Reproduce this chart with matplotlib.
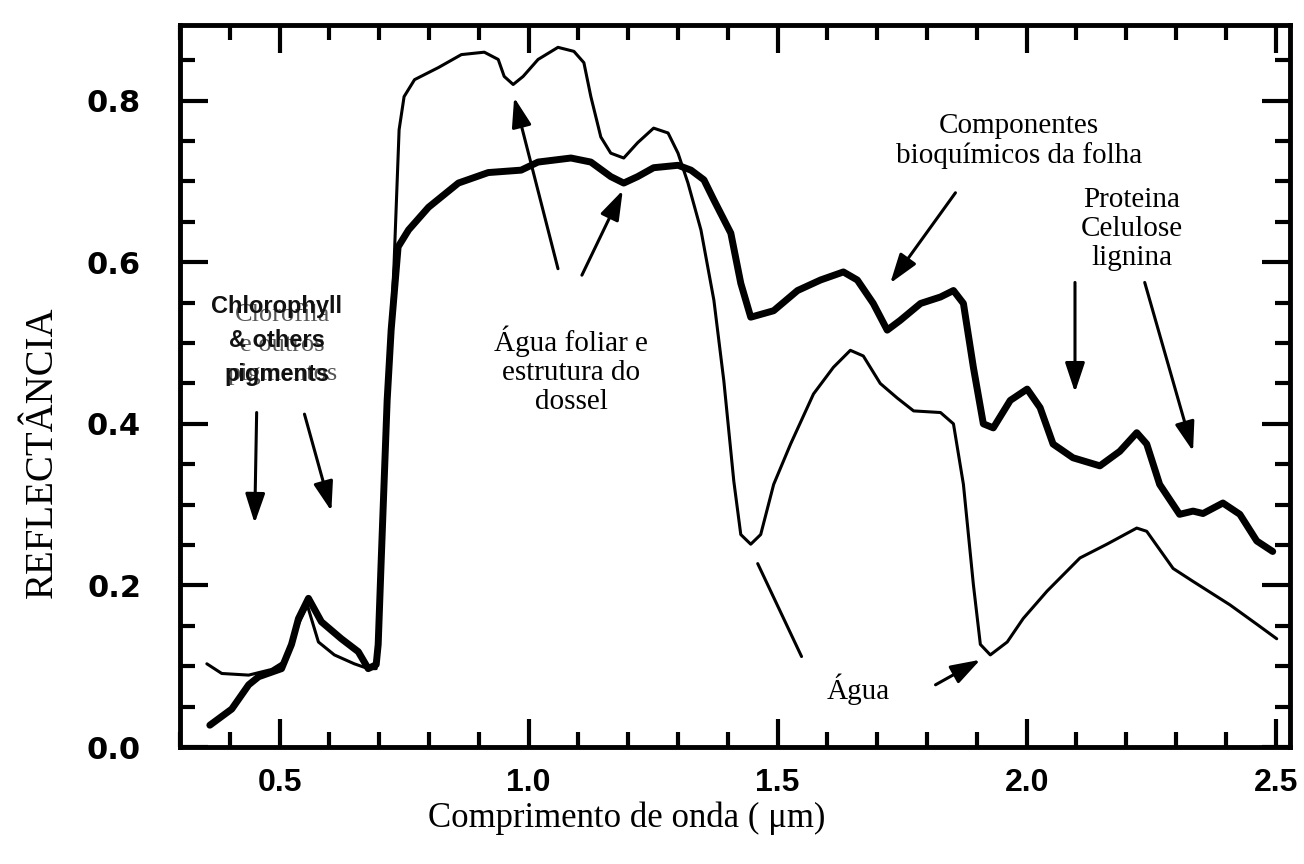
import matplotlib
matplotlib.use("Agg")
import matplotlib.pyplot as plt
from matplotlib.ticker import MultipleLocator, FixedLocator

# ---- data ----
wl_thin = [0.354, 0.384, 0.438, 0.484, 0.510, 0.524, 0.540, 0.556, 0.578, 0.610, 0.650, 0.678, 0.694,
           0.704, 0.716, 0.730, 0.740, 0.750, 0.771, 0.819, 0.865, 0.911, 0.939, 0.951, 0.969, 0.989,
           1.019, 1.059, 1.091, 1.111, 1.125, 1.145, 1.165, 1.191, 1.219, 1.251, 1.280, 1.300, 1.320,
           1.346, 1.372, 1.392, 1.412, 1.426, 1.446, 1.466, 1.492, 1.526, 1.572, 1.612, 1.646, 1.672,
           1.706, 1.740, 1.773, 1.827, 1.853, 1.873, 1.893, 1.907, 1.927, 1.961, 1.993, 2.041, 2.107,
           2.161, 2.221, 2.241, 2.294, 2.334, 2.408, 2.462, 2.502]
refl_thin = [0.103, 0.091, 0.089, 0.096, 0.106, 0.130, 0.155, 0.175, 0.130, 0.114, 0.103, 0.097, 0.097,
             0.230, 0.420, 0.600, 0.764, 0.805, 0.826, 0.841, 0.857, 0.860, 0.851, 0.830, 0.820, 0.830,
             0.851, 0.866, 0.861, 0.847, 0.805, 0.755, 0.735, 0.729, 0.748, 0.766, 0.760, 0.735, 0.698,
             0.640, 0.553, 0.453, 0.329, 0.263, 0.251, 0.263, 0.325, 0.375, 0.437, 0.470, 0.491, 0.484,
             0.450, 0.432, 0.416, 0.414, 0.400, 0.325, 0.201, 0.127, 0.114, 0.130, 0.159, 0.193, 0.234,
             0.251, 0.271, 0.267, 0.221, 0.205, 0.176, 0.152, 0.134]

wl_thick = [0.360, 0.404, 0.438, 0.458, 0.504, 0.524, 0.538, 0.558, 0.584, 0.624, 0.658, 0.678, 0.694,
            0.698, 0.704, 0.716, 0.724, 0.738, 0.759, 0.799, 0.859, 0.919, 0.985, 1.019, 1.085, 1.125,
            1.165, 1.191, 1.219, 1.251, 1.300, 1.326, 1.352, 1.372, 1.406, 1.426, 1.446, 1.492, 1.540,
            1.586, 1.632, 1.660, 1.692, 1.720, 1.746, 1.787, 1.827, 1.853, 1.873, 1.893, 1.913, 1.933,
            1.967, 2.001, 2.027, 2.053, 2.093, 2.147, 2.187, 2.221, 2.241, 2.267, 2.307, 2.334, 2.354,
            2.394, 2.428, 2.462, 2.494]
refl_thick = [0.027, 0.047, 0.077, 0.087, 0.097, 0.127, 0.159, 0.184, 0.155, 0.134, 0.118, 0.097, 0.102,
              0.127, 0.230, 0.429, 0.516, 0.619, 0.640, 0.668, 0.698, 0.711, 0.714, 0.724, 0.729, 0.724,
              0.706, 0.698, 0.706, 0.717, 0.720, 0.714, 0.702, 0.677, 0.636, 0.574, 0.532, 0.540, 0.565,
              0.578, 0.588, 0.578, 0.549, 0.516, 0.528, 0.549, 0.557, 0.565, 0.549, 0.470, 0.400, 0.395,
              0.429, 0.443, 0.420, 0.375, 0.358, 0.348, 0.366, 0.389, 0.375, 0.325, 0.288, 0.292, 0.289,
              0.302, 0.288, 0.255, 0.242]

x_ticks = [0.5, 1.0, 1.5, 2.0, 2.5]
x_ticklabels = ["0.5", "1.0", "1.5", "2.0", "2.5"]
y_ticks = [0.0, 0.2, 0.4, 0.6, 0.8]
y_ticklabels = ["0.0", "0.2", "0.4", "0.6", "0.8"]

xlabel = "Comprimento de onda ( \u03bcm)"
ylabel = "REFLECT\u00c2NCIA"

# annotations: (text, x, y)
labels = [
    ("\u00c1gua foliar e\nestrutura do\ndossel", 1.085, 0.466),
    ("Componentes\nbioqu\u00edmicos da folha", 1.985, 0.750),
    ("Proteina\nCelulose\nlignina", 2.211, 0.641),
    ("\u00c1gua", 1.662, 0.071),
]
# arrows: (tail_x, tail_y, tip_x, tip_y, has_head)
arrows = [
    (0.454, 0.414, 0.450, 0.277, True),
    (0.550, 0.412, 0.604, 0.292, True),
    (1.059, 0.592, 0.971, 0.804, True),
    (1.107, 0.584, 1.189, 0.689, True),
    (1.548, 0.112, 1.460, 0.227, False),
    (1.817, 0.077, 1.907, 0.108, True),
    (1.857, 0.686, 1.726, 0.574, True),
    (2.097, 0.575, 2.097, 0.439, True),
    (2.237, 0.575, 2.334, 0.366, True),
]

# ---- figure ----
fig = plt.figure(figsize=(13.04, 8.64), dpi=100)
ax = fig.add_axes([0.138, 0.1354, 0.851, 0.836])

ax.plot(wl_thin, refl_thin, color="black", lw=2.2, solid_joinstyle="round", solid_capstyle="round")
ax.plot(wl_thick, refl_thick, color="black", lw=5.0, solid_joinstyle="round", solid_capstyle="round")

ax.set_xlim(0.30, 2.528)
ax.set_ylim(0.0, 0.894)

ax.xaxis.set_major_locator(FixedLocator(x_ticks))
ax.xaxis.set_minor_locator(MultipleLocator(0.1))
ax.yaxis.set_major_locator(FixedLocator(y_ticks))
ax.yaxis.set_minor_locator(MultipleLocator(0.05))
ax.set_xticklabels(x_ticklabels)
ax.set_yticklabels(y_ticklabels)

ax.tick_params(which="both", direction="in", top=True, right=True, color="black")
ax.tick_params(which="major", length=20, width=3)
ax.tick_params(which="minor", length=11, width=3)
ax.tick_params(axis="y", which="major", pad=28)
ax.tick_params(axis="x", which="major", pad=15)
for lab in ax.get_yticklabels():
    lab.set_fontfamily("DejaVu Sans")
    lab.set_fontweight("bold")
    lab.set_fontsize(22)
for lab in ax.get_xticklabels():
    lab.set_fontfamily("Liberation Sans")
    lab.set_fontweight("bold")
    lab.set_fontsize(23)

for sp in ax.spines.values():
    sp.set_linewidth(3.5)
    sp.set_color("black")

fig.text(42 / 1304, 1 - 452 / 864, ylabel, rotation=90, ha="center", va="center",
         family="Liberation Serif", fontsize=28)
fig.text(627 / 1304, 1 - 818 / 864, xlabel, ha="center", va="center",
         family="Liberation Serif", fontsize=25)

for txt, x, y in labels:
    ax.text(x, y, txt, ha="center", va="center", family="Liberation Serif",
            fontsize=21, linespacing=1.15)

# overlapping chlorophyll labels (as in the scanned original)
ax.text(0.506, 0.498, "Clorofila\ne outros\npigmentos", ha="center", va="center",
        family="Liberation Serif", fontsize=19, color="#555555", linespacing=1.45)
ax.text(0.494, 0.503, "Chlorophyll\n& others\npigments", ha="center", va="center",
        family="Liberation Sans", fontweight="bold", fontsize=17, color="#111111", linespacing=1.6)

for tx, ty, hx, hy, head in arrows:
    style = "-|>,head_length=0.9,head_width=0.3" if head else "-"
    ax.annotate("", xy=(hx, hy), xytext=(tx, ty),
                arrowprops=dict(arrowstyle=style, lw=2.2, color="black",
                                mutation_scale=20, shrinkA=0, shrinkB=0))

fig.savefig("out.png", dpi=100)
